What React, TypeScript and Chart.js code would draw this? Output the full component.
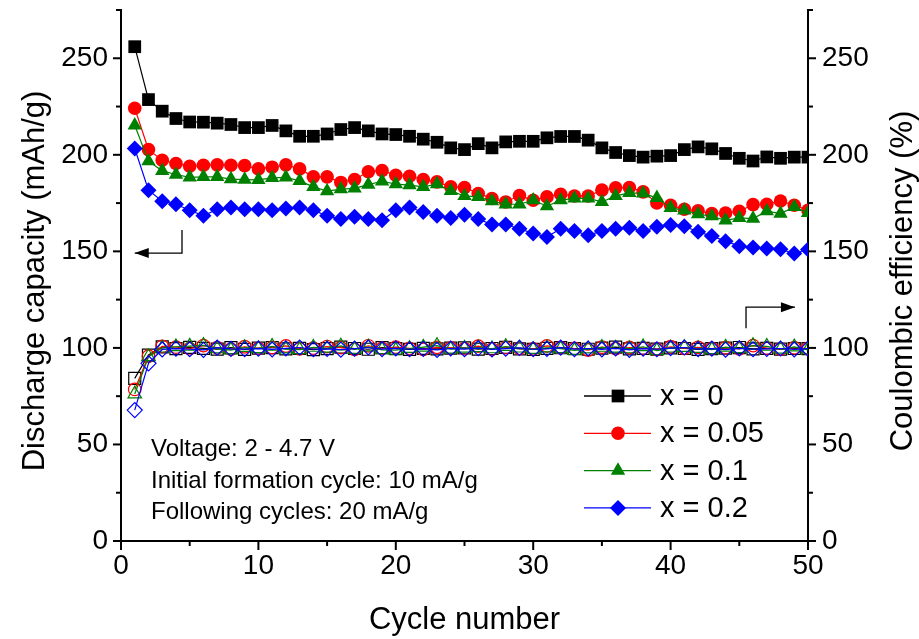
import React, { useEffect, useRef } from 'react';
import { Chart, registerables } from 'chart.js';

Chart.register(...registerables);

const FONT = "'Liberation Sans', Arial, sans-serif";

const cycles = [1, 2, 3, 4, 5, 6, 7, 8, 9, 10, 11, 12, 13, 14, 15, 16, 17, 18, 19, 20, 21, 22, 23, 24, 25,
  26, 27, 28, 29, 30, 31, 32, 33, 34, 35, 36, 37, 38, 39, 40, 41, 42, 43, 44, 45, 46, 47, 48, 49, 50];

// Discharge capacity (mAh/g)
const capX0 = [256.0, 228.6, 222.6, 218.8, 217.0, 216.9, 216.4, 215.7, 214.1, 214.1, 215.2, 212.4, 209.6, 209.6, 210.8,
  213.1, 214.1, 212.4, 210.8, 210.5, 209.6, 208.1, 206.5, 203.6, 202.7, 205.8, 203.6, 206.7, 207.0, 207.0, 208.8, 209.5,
  209.5, 207.6, 203.6, 201.2, 199.6, 198.8, 199.3, 199.6, 202.7, 204.1, 203.1, 200.7, 198.2, 196.8, 198.9, 198.2, 198.8, 198.8];
const capX005 = [224.1, 202.7, 197.2, 195.5, 194.1, 194.6, 194.8, 194.6, 194.4, 192.7, 193.6, 194.8, 192.7, 188.6, 188.6,
  185.7, 187.2, 191.2, 191.9, 189.4, 188.9, 187.2, 186.0, 183.4, 183.1, 180.0, 177.4, 175.6, 178.9, 176.5, 178.2, 179.6,
  178.7, 178.7, 181.7, 182.9, 183.1, 180.8, 175.1, 173.8, 171.8, 171.0, 169.6, 169.9, 170.8, 174.2, 174.4, 176.1, 173.9, 171.3];
const capX01 = [215.3, 196.7, 191.7, 189.8, 188.3, 188.6, 188.6, 187.4, 187.2, 187.0, 188.1, 188.3, 186.5, 183.4, 181.2,
  182.2, 182.6, 184.6, 186.3, 184.8, 184.3, 183.4, 184.8, 181.3, 178.7, 178.2, 176.0, 174.4, 174.4, 176.5, 173.4, 176.5,
  177.4, 177.4, 175.6, 178.7, 180.3, 180.0, 177.7, 172.5, 171.3, 169.3, 168.2, 166.1, 167.3, 167.0, 170.8, 169.6, 173.0, 169.9];
const capX02 = [203.3, 181.7, 176.0, 174.4, 171.3, 168.4, 171.8, 172.7, 171.8, 171.8, 171.3, 172.2, 172.7, 171.3, 168.4,
  166.7, 167.9, 166.7, 166.1, 171.3, 172.7, 170.4, 168.4, 167.3, 168.9, 166.7, 163.9, 163.9, 161.7, 159.3, 157.5, 161.7,
  160.5, 158.4, 160.5, 161.7, 162.2, 160.5, 162.7, 163.6, 163.0, 160.1, 157.9, 155.3, 152.7, 152.0, 151.5, 151.1, 148.9, 151.0];

// Coulombic efficiency (%)
const ceX0 = [84.2, 96.3, 100.5, 99.6, 100.3, 99.8, 99.4, 100.1, 99.2, 99.9, 100.2, 99.5, 99.8, 99.1, 99.6, 100.4, 99.7,
  99.3, 100.1, 99.6, 99.2, 99.8, 99.5, 99.9, 100.0, 99.4, 99.7, 100.3, 99.5, 99.2, 99.8, 100.1, 99.6, 99.3, 99.9, 100.4,
  99.5, 99.8, 99.4, 100.0, 99.7, 99.2, 99.6, 99.9, 100.2, 99.5, 99.8, 99.4, 99.7, 99.6];
const ceX005 = [78.5, 95.7, 100.8, 100.4, 99.6, 101.2, 100.1, 99.4, 100.6, 99.8, 100.2, 101.0, 99.5, 99.9, 100.7, 100.1,
  99.3, 101.1, 99.7, 100.4, 99.8, 99.2, 100.3, 100.0, 99.6, 100.9, 99.4, 100.2, 99.8, 99.5, 101.0, 100.1, 99.7, 98.9, 100.4,
  99.6, 100.2, 99.9, 99.3, 100.6, 99.8, 100.3, 99.7, 100.1, 99.5, 101.2, 99.9, 99.4, 100.1, 99.7];
const ceX01 = [76.1, 95.4, 99.9, 100.6, 100.9, 101.3, 99.5, 98.9, 100.2, 99.6, 100.8, 99.4, 99.1, 100.3, 99.8, 101.0, 99.2,
  100.5, 99.0, 98.8, 99.7, 100.4, 101.2, 99.3, 99.8, 100.1, 99.5, 100.7, 99.9, 99.2, 100.0, 99.6, 98.7, 99.4, 100.3, 99.8,
  99.5, 100.6, 98.6, 99.9, 100.2, 99.7, 99.1, 100.4, 99.6, 101.2, 100.8, 99.3, 100.5, 99.0];
const ceX02 = [67.8, 92.0, 99.2, 99.6, 99.3, 99.0, 100.1, 99.5, 99.4, 99.6, 99.2, 99.8, 100.2, 99.3, 99.5, 99.1, 99.6,
  100.2, 99.4, 99.8, 99.3, 99.5, 99.0, 99.7, 99.4, 99.9, 99.2, 99.6, 100.0, 99.3, 99.5, 100.1, 99.4, 99.7, 99.2, 99.8,
  99.0, 99.6, 99.3, 99.9, 100.2, 99.4, 99.6, 99.1, 99.8, 99.3, 99.5, 99.7, 99.2, 99.6];

const seriesLabels = ['x = 0', 'x = 0.05', 'x = 0.1', 'x = 0.2'];
const seriesColors = ['#000000', '#ff0000', '#008000', '#0000ff'];
const seriesStyles = ['rect', 'circle', 'triangle', 'rectRot'];
const seriesRadii = [9, 6.8, 8.3, 8];
const capacitySeries = [capX0, capX005, capX01, capX02];
const efficiencySeries = [ceX0, ceX005, ceX01, ceX02];

const yMajorTicks = [0, 50, 100, 150, 200, 250];
const yMinorTicks = [25, 75, 125, 175, 225, 275];
const xMajorTicks = [0, 10, 20, 30, 40, 50];
const xMinorTicks = [5, 15, 25, 35, 45];

const leftTitle = 'Discharge capacity (mAh/g)';
const rightTitle = 'Coulombic efficiency (%)';
const bottomTitle = 'Cycle number';
const notes = ['Voltage: 2 - 4.7 V', 'Initial formation cycle: 10 mA/g', 'Following cycles: 20 mA/g'];

function drawMarker(ctx: CanvasRenderingContext2D, style: string, x: number, y: number, r: number, color: string) {
  ctx.save();
  ctx.fillStyle = color;
  ctx.beginPath();
  if (style === 'rect') {
    const s = Math.SQRT1_2 * r;
    ctx.rect(x - s, y - s, 2 * s, 2 * s);
  } else if (style === 'circle') {
    ctx.arc(x, y, r, 0, Math.PI * 2);
  } else if (style === 'triangle') {
    for (let k = 0; k < 3; k++) {
      const a = k * (2 * Math.PI / 3);
      const px = x + Math.sin(a) * r;
      const py = y - Math.cos(a) * r;
      if (k === 0) ctx.moveTo(px, py); else ctx.lineTo(px, py);
    }
    ctx.closePath();
  } else {
    ctx.moveTo(x, y - r);
    ctx.lineTo(x + r, y);
    ctx.lineTo(x, y + r);
    ctx.lineTo(x - r, y);
    ctx.closePath();
  }
  ctx.fill();
  ctx.restore();
}

const decorPlugin = {
  id: 'decor',
  afterDraw(chart: any) {
    const ctx: CanvasRenderingContext2D = chart.ctx;
    const xs = chart.scales.x;
    const yl = chart.scales.y;
    const yr = chart.scales.y2;
    const area = chart.chartArea;
    ctx.save();
    ctx.strokeStyle = '#000';
    ctx.lineWidth = 2;
    const tick = (x1: number, y1: number, x2: number, y2: number) => {
      ctx.beginPath();
      ctx.moveTo(x1, y1);
      ctx.lineTo(x2, y2);
      ctx.stroke();
    };
    yMajorTicks.forEach((v) => {
      const p = yl.getPixelForValue(v);
      tick(area.left - 8, p, area.left, p);
      const q = yr.getPixelForValue(v);
      tick(area.right, q, area.right + 8, q);
    });
    yMinorTicks.forEach((v) => {
      const p = yl.getPixelForValue(v);
      tick(area.left - 5, p, area.left, p);
      const q = yr.getPixelForValue(v);
      tick(area.right, q, area.right + 5, q);
    });
    xMajorTicks.forEach((v) => {
      const p = xs.getPixelForValue(v);
      tick(p, area.bottom, p, area.bottom + 9);
    });
    xMinorTicks.forEach((v) => {
      const p = xs.getPixelForValue(v);
      tick(p, area.bottom, p, area.bottom + 5);
    });

    // axis titles
    ctx.fillStyle = '#000';
    ctx.font = `31px ${FONT}`;
    ctx.textAlign = 'center';
    ctx.textBaseline = 'middle';
    const midY = 281;
    ctx.save();
    ctx.translate(35, midY);
    ctx.rotate(-Math.PI / 2);
    ctx.fillText(leftTitle, 0, 0);
    ctx.restore();
    ctx.save();
    ctx.translate(903, midY);
    ctx.rotate(-Math.PI / 2);
    ctx.fillText(rightTitle, 0, 0);
    ctx.restore();
    ctx.fillText(bottomTitle, (area.left + area.right) / 2, 620);

    // legend
    ctx.font = `29px ${FONT}`;
    ctx.textAlign = 'left';
    for (let i = 0; i < seriesLabels.length; i++) {
      const ry = 396 + i * 37.3;
      ctx.strokeStyle = seriesColors[i];
      ctx.lineWidth = 1.3;
      ctx.beginPath();
      ctx.moveTo(584, ry);
      ctx.lineTo(651, ry);
      ctx.stroke();
      drawMarker(ctx, seriesStyles[i], 618, ry, seriesRadii[i], seriesColors[i]);
      ctx.fillStyle = '#000';
      ctx.fillText(seriesLabels[i], 660, ry + 1);
    }

    // notes
    ctx.font = `24px ${FONT}`;
    ctx.textBaseline = 'alphabetic';
    notes.forEach((t, i) => ctx.fillText(t, 151, 456 + i * 31.5));

    // arrows
    ctx.strokeStyle = '#000';
    ctx.fillStyle = '#000';
    ctx.lineWidth = 1.3;
    const arrow = (pts: number[][], dir: number) => {
      const P = pts.map(([cx, cy]) => [xs.getPixelForValue(cx), yl.getPixelForValue(cy)]);
      ctx.beginPath();
      ctx.moveTo(P[0][0], P[0][1]);
      for (let k = 1; k < P.length; k++) ctx.lineTo(P[k][0], P[k][1]);
      ctx.stroke();
      const [tx, ty] = P[P.length - 1];
      ctx.beginPath();
      ctx.moveTo(tx, ty);
      ctx.lineTo(tx - dir * 14, ty - 5);
      ctx.lineTo(tx - dir * 14, ty + 5);
      ctx.closePath();
      ctx.fill();
    };
    arrow([[4.44, 161], [4.44, 149.1], [1.0, 149.1]], -1);
    arrow([[45.49, 110.2], [45.49, 121.1], [49.05, 121.1]], 1);
    ctx.restore();
  },
};

export default function App() {
  const canvasRef = useRef<HTMLCanvasElement | null>(null);

  useEffect(() => {
    if (!canvasRef.current) return;
    const datasets: any[] = [];
    capacitySeries.forEach((vals, i) => {
      datasets.push({
        label: seriesLabels[i],
        data: vals.map((v, k) => ({ x: cycles[k], y: v })),
        borderColor: seriesColors[i],
        backgroundColor: seriesColors[i],
        borderWidth: 1.2,
        pointStyle: seriesStyles[i],
        pointRadius: seriesRadii[i],
        pointBorderWidth: 0,
        pointBackgroundColor: seriesColors[i],
        yAxisID: 'y',
        order: 8 - i,
      });
    });
    efficiencySeries.forEach((vals, i) => {
      datasets.push({
        label: seriesLabels[i] + ' CE',
        data: vals.map((v, k) => ({ x: cycles[k], y: v })),
        borderColor: seriesColors[i],
        backgroundColor: 'rgba(0,0,0,0)',
        borderWidth: 1.2,
        pointStyle: seriesStyles[i],
        pointRadius: seriesRadii[i] - 0.5,
        pointBorderWidth: 1.2,
        pointBorderColor: seriesColors[i],
        pointBackgroundColor: 'rgba(0,0,0,0)',
        yAxisID: 'y2',
        order: 4 - i,
      });
    });

    const tickFont = { family: FONT, size: 28 };
    const chart = new Chart(canvasRef.current, {
      type: 'line',
      data: { datasets },
      options: {
        responsive: false,
        animation: false,
        events: [],
        layout: { padding: { top: 10, left: 0, right: 0, bottom: 0 } },
        plugins: { legend: { display: false }, tooltip: { enabled: false } },
        scales: {
          x: {
            type: 'linear',
            min: 0,
            max: 50,
            grid: { display: false, drawTicks: false },
            border: { display: true, color: '#000', width: 2 },
            ticks: { stepSize: 10, color: '#000', font: tickFont, padding: 8, maxRotation: 0 },
            afterFit: (s: any) => { s.height = 98; s.paddingLeft = 0; s.paddingRight = 0; },
          },
          y: {
            type: 'linear',
            position: 'left',
            min: 0,
            max: 275,
            grid: { display: false, drawTicks: false },
            border: { display: true, color: '#000', width: 2 },
            ticks: {
              stepSize: 50, includeBounds: false, color: '#000', font: tickFont, padding: 13,
              callback: (v: any) => (yMajorTicks.includes(Number(v)) ? String(v) : ''),
            },
            afterFit: (s: any) => { s.width = 121; s.paddingTop = 0; s.paddingBottom = 0; },
          },
          y2: {
            type: 'linear',
            position: 'right',
            min: 0,
            max: 275,
            grid: { display: false, drawTicks: false },
            border: { display: true, color: '#000', width: 2 },
            ticks: {
              stepSize: 50, includeBounds: false, color: '#000', font: tickFont, padding: 14,
              callback: (v: any) => (yMajorTicks.includes(Number(v)) ? String(v) : ''),
            },
            afterFit: (s: any) => { s.width = 111; s.paddingTop = 0; s.paddingBottom = 0; },
          },
        },
      } as any,
      plugins: [decorPlugin],
    });
    return () => chart.destroy();
  }, []);

  return (
    <div style={{ position: 'absolute', left: 0, top: 0, width: 919, height: 639, background: '#fff' }}>
      <canvas ref={canvasRef} width={919} height={639} style={{ display: 'block' }} />
    </div>
  );
}
